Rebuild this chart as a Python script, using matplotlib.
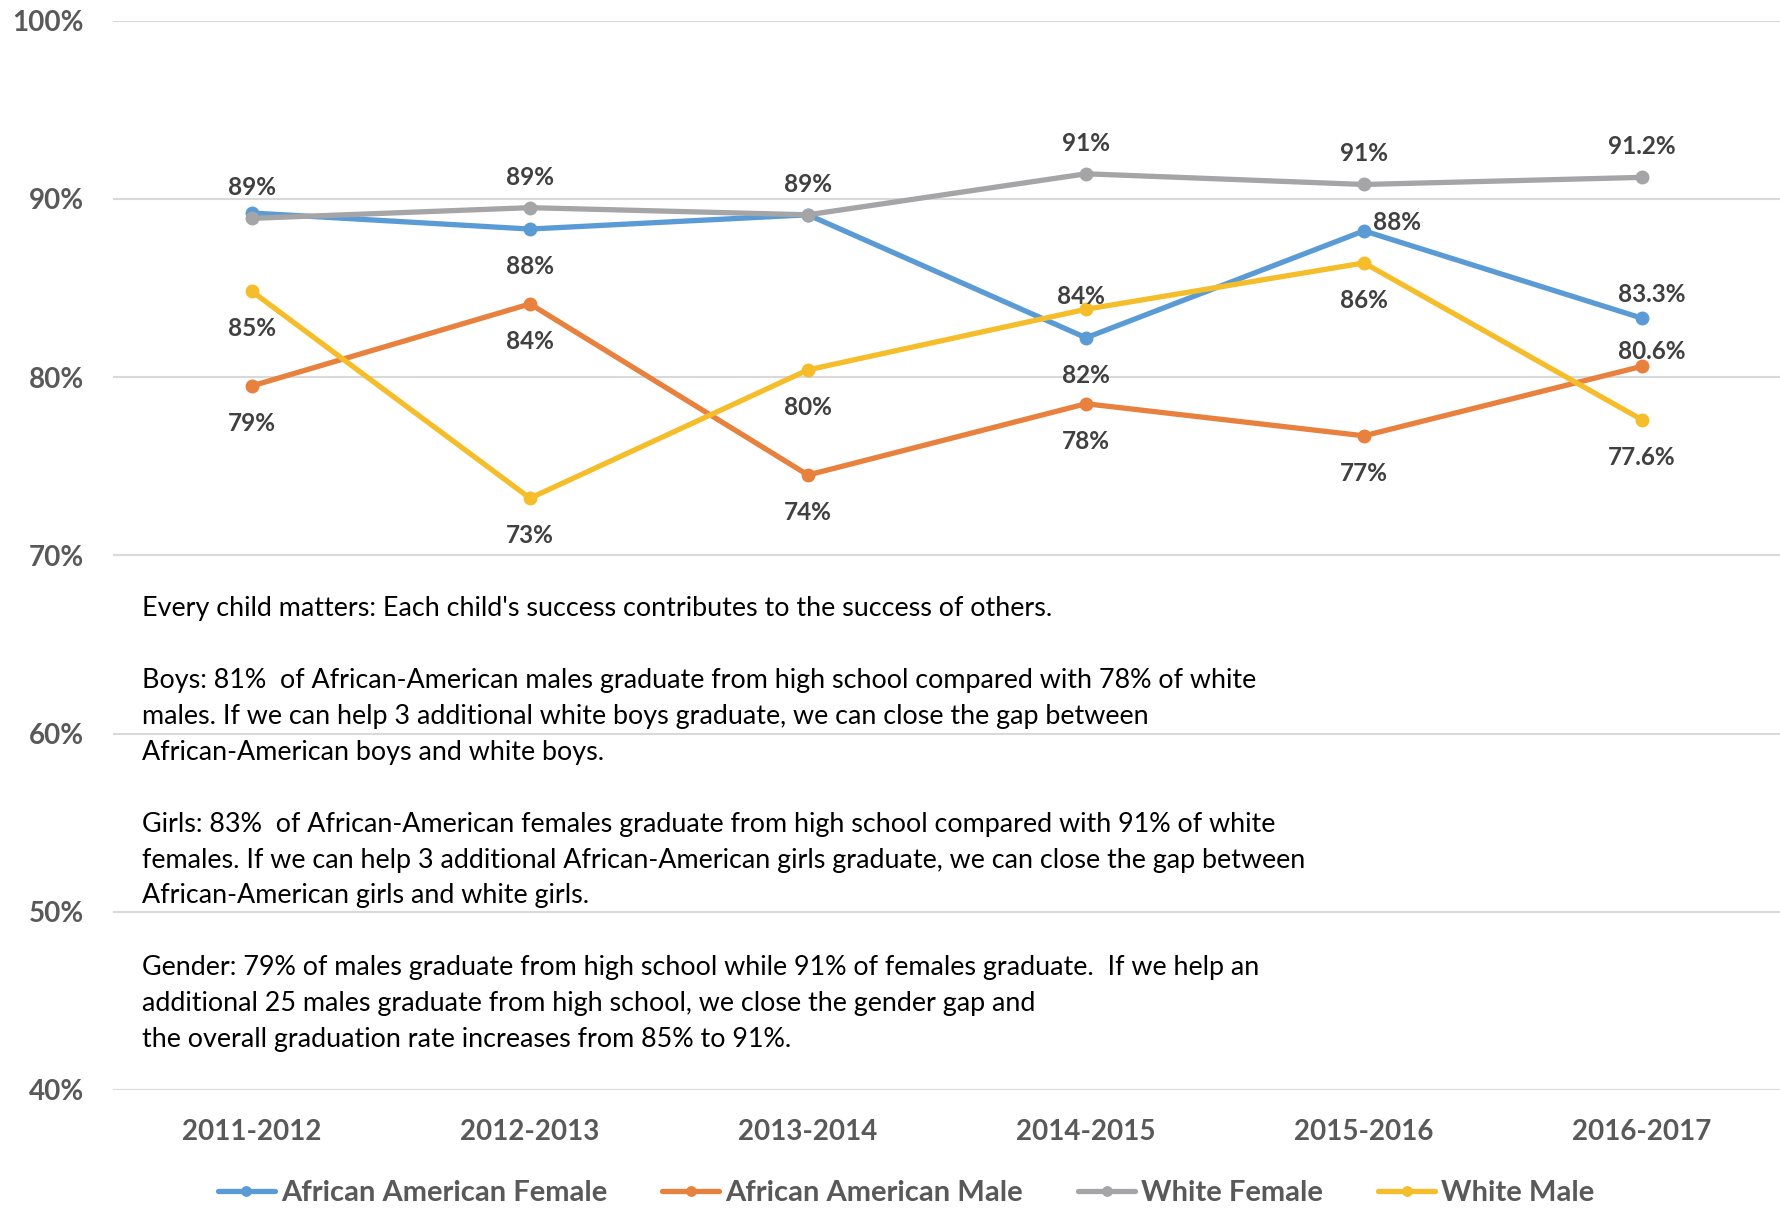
import matplotlib
matplotlib.use("Agg")
import matplotlib.pyplot as plt
from matplotlib.ticker import FuncFormatter

# ---------------- data ----------------
years = ["2011-2012", "2012-2013", "2013-2014", "2014-2015", "2015-2016", "2016-2017"]
series_names = ["African American Female", "African American Male", "White Female", "White Male"]
aa_female = [89.2, 88.3, 89.1, 82.2, 88.2, 83.3]
aa_male = [79.5, 84.1, 74.5, 78.5, 76.7, 80.6]
white_female = [88.9, 89.5, 89.1, 91.4, 90.8, 91.2]
white_male = [84.8, 73.2, 80.4, 83.8, 86.4, 77.6]

aa_female_labels = [None, "88%", None, "82%", "88%", "83.3%"]
aa_male_labels = ["79%", "84%", "74%", "78%", "77%", "80.6%"]
white_female_labels = ["89%", "89%", "89%", "91%", "91%", "91.2%"]
white_male_labels = ["85%", "73%", "80%", "84%", "86%", "77.6%"]

y_ticks = [40, 50, 60, 70, 80, 90, 100]

note_lines = [
    "Every child matters: Each child's success contributes to the success of others.",
    "",
    "Boys: 81%  of African-American males graduate from high school compared with 78% of white",
    "males. If we can help 3 additional white boys graduate, we can close the gap between",
    "African-American boys and white boys.",
    "",
    "Girls: 83%  of African-American females graduate from high school compared with 91% of white",
    "females. If we can help 3 additional African-American girls graduate, we can close the gap between",
    "African-American girls and white girls.",
    "",
    "Gender: 79% of males graduate from high school while 91% of females graduate.  If we help an",
    "additional 25 males graduate from high school, we close the gender gap and",
    "the overall graduation rate increases from 85% to 91%.",
]

# ---------------- styles ----------------
colors = ["#5B9BD5", "#E8803E", "#A5A5A8", "#F5BD2A"]
# label offsets in points (dx, dy) per series/point
ABOVE = (0, 22)
BELOW = (0, -27)
offsets = [
    [ABOVE, BELOW, ABOVE, BELOW, (24, 6), (7, 17)],
    [BELOW, BELOW, BELOW, BELOW, BELOW, (7, 11)],
    [ABOVE, ABOVE, ABOVE, ABOVE, ABOVE, ABOVE],
    [BELOW, BELOW, BELOW, (-4, 9), BELOW, BELOW],
]

FONT = "Lato"
TICK_COLOR = "#595959"
LABEL_COLOR = "#404040"

W, H = 1781, 1209
fig = plt.figure(figsize=(W / 100, H / 100), dpi=100)
ax = fig.add_axes([113 / W, 119 / H, 1 - 113 / W, (1090 - 20.5) / H])

x = list(range(len(years)))
all_series = [aa_female, aa_male, white_female, white_male]
all_labels = [aa_female_labels, aa_male_labels, white_female_labels, white_male_labels]

for vals, name, c, labs, offs in zip(all_series, series_names, colors, all_labels, offsets):
    ax.plot(x, vals, color=c, lw=3.8, marker="o", markersize=9, label=name,
            solid_capstyle="round", zorder=3)
    for xi, v, lab, off in zip(x, vals, labs, offs):
        if lab is None:
            continue
        ax.annotate(lab, (xi, v), xytext=off, textcoords="offset points",
                    ha="center", va="center", fontsize=17.5, fontweight="bold",
                    color=LABEL_COLOR, family=FONT, zorder=5)

ax.set_xlim(-0.5, len(years) - 0.5)
ax.set_ylim(40, 100)
ax.set_yticks(y_ticks)
ax.yaxis.set_major_formatter(FuncFormatter(lambda v, p: f"{v:.0f}%"))
ax.set_xticks(x)
ax.set_xticklabels(years)
ax.grid(axis="y", color="#D9D9D9", lw=1.5, zorder=0)
ax.set_axisbelow(True)
for s in ax.spines.values():
    s.set_visible(False)
ax.tick_params(axis="both", length=0, colors=TICK_COLOR)
ax.tick_params(axis="y", pad=21)
ax.tick_params(axis="x", pad=21)
for t in ax.get_yticklabels() + ax.get_xticklabels():
    t.set_fontsize(20)
    t.set_fontweight("bold")
    t.set_family(FONT)
    t.set_color(TICK_COLOR)

# note text
y0 = 608.8
step = 35.9
for i, line in enumerate(note_lines):
    if not line:
        continue
    fig.text(142 / W, 1 - (y0 + i * step) / H, line, ha="left", va="center",
             fontsize=19.4, family=FONT, color="#000000")

leg = fig.legend(loc="center", bbox_to_anchor=(906 / W, 16 / H), ncol=4, frameon=False,
                 prop={"family": FONT, "weight": "bold", "size": 21},
                 handlelength=1.95, handletextpad=0.2, columnspacing=1.9, markerscale=0.75)
for t in leg.get_texts():
    t.set_color(TICK_COLOR)

fig.savefig("out.png", dpi=100)
